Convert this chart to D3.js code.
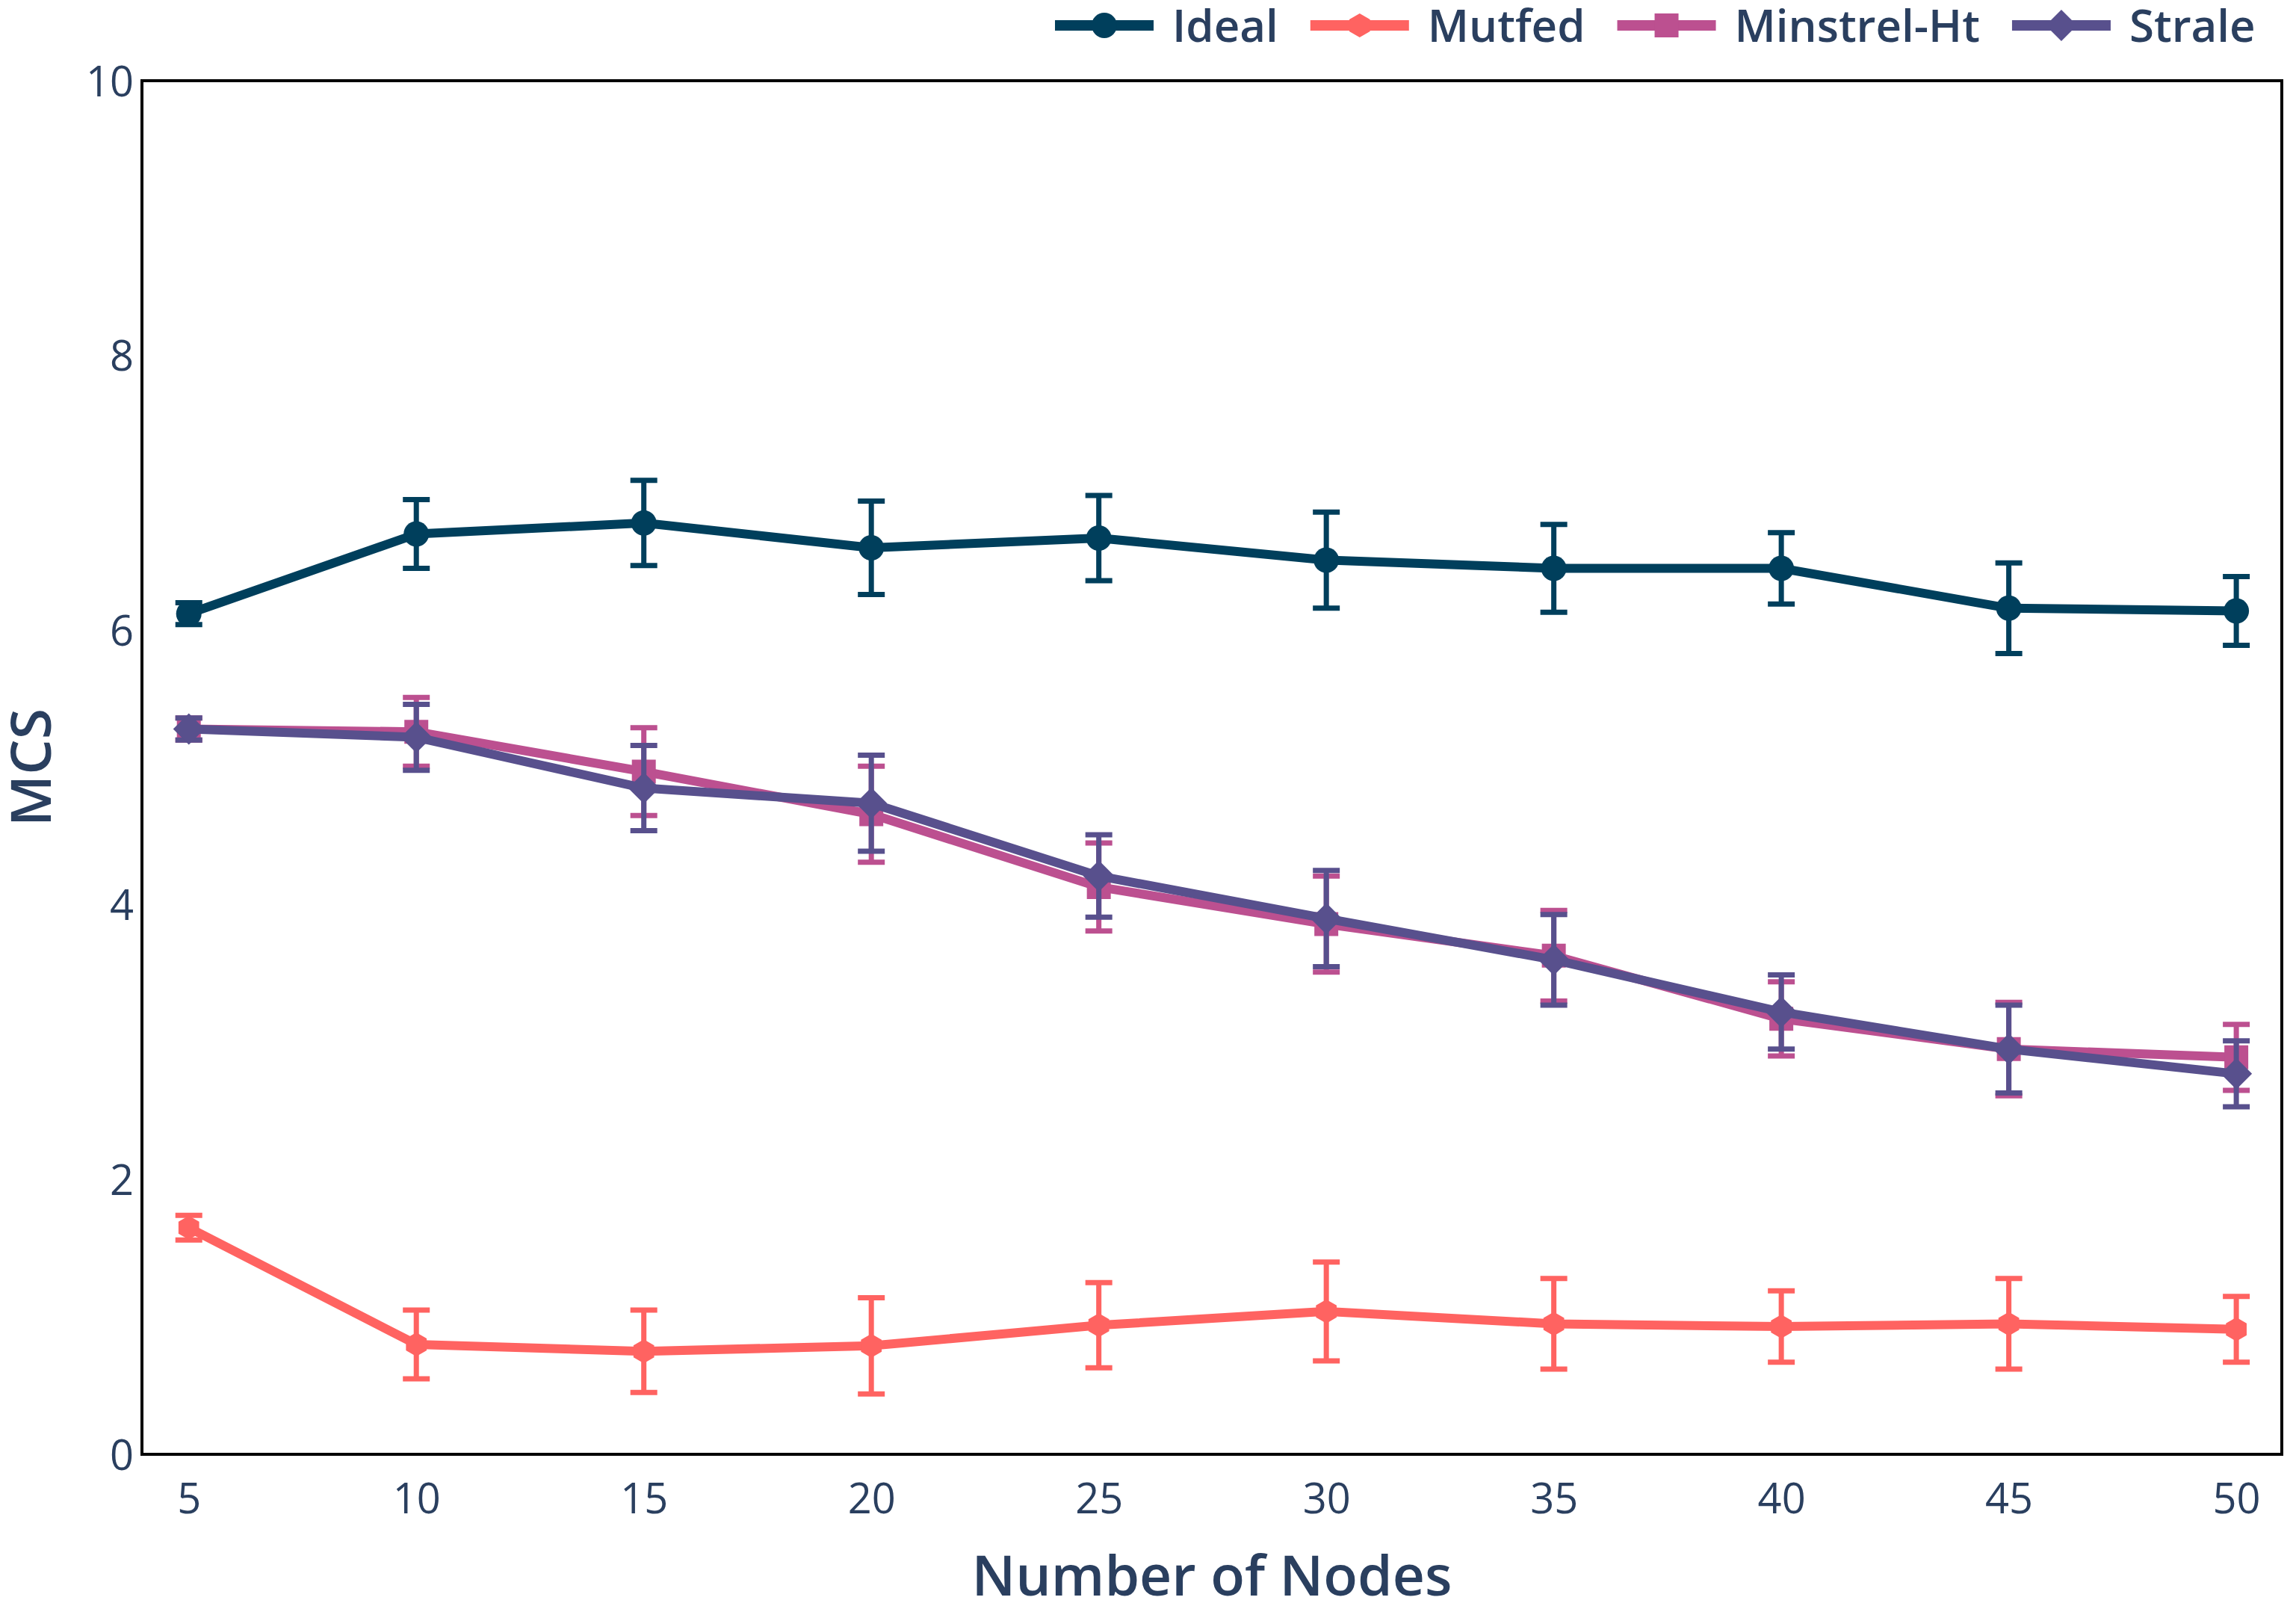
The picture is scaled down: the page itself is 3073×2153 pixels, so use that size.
<!DOCTYPE html>
<html>
<head>
<meta charset="utf-8">
<script src="https://cdn.jsdelivr.net/npm/d3@7"></script>
<style>
  html, body { margin: 0; padding: 0; background: #fff; }
  svg { display: block; font-family: "Open Sans", sans-serif; }
</style>
</head>
<body>
<div id="chart"></div>
<script>
// data
const nodes = [5, 10, 15, 20, 25, 30, 35, 40, 45, 50];
const seriesNames = ['Ideal', 'Mutfed', 'Minstrel-Ht', 'Strale'];
const idealMean    = [6.12, 6.70, 6.78, 6.60, 6.67, 6.51, 6.45, 6.45, 6.16, 6.14];
const idealErr     = [0.08, 0.25, 0.31, 0.34, 0.31, 0.35, 0.32, 0.26, 0.33, 0.25];
const mutfedMean   = [1.65, 0.80, 0.75, 0.79, 0.94, 1.04, 0.95, 0.93, 0.95, 0.91];
const mutfedErr    = [0.09, 0.25, 0.30, 0.35, 0.31, 0.36, 0.33, 0.26, 0.33, 0.24];
const minstrelMean = [5.28, 5.26, 4.97, 4.66, 4.13, 3.86, 3.63, 3.17, 2.95, 2.89];
const minstrelErr  = [0.08, 0.25, 0.32, 0.35, 0.32, 0.35, 0.33, 0.27, 0.34, 0.24];
const straleMean   = [5.28, 5.22, 4.85, 4.74, 4.21, 3.90, 3.60, 3.22, 2.95, 2.77];
const straleErr    = [0.08, 0.24, 0.31, 0.35, 0.30, 0.35, 0.33, 0.27, 0.32, 0.24];
const yTicks = [0, 2, 4, 6, 8, 10];

const colors = ['#003f5c', '#ff6361', '#bc5090', '#58508d'];
const symbols = ['circle', 'hexagon', 'square', 'diamond'];

const W = 3073, H = 2153;
const plot = { left: 190, right: 3054, top: 108, bottom: 1946 };
const textColor = '#2a3f5f';

const svg = d3.select('#chart').append('svg')
    .attr('width', W)
    .attr('height', H);

const x = d3.scaleLinear().domain([3.97, 51.0]).range([plot.left, plot.right]);
const y = d3.scaleLinear().domain([0, 10]).range([plot.bottom, plot.top]);

const series = [
    { name: seriesNames[0], mean: idealMean, err: idealErr },
    { name: seriesNames[1], mean: mutfedMean, err: mutfedErr },
    { name: seriesNames[2], mean: minstrelMean, err: minstrelErr },
    { name: seriesNames[3], mean: straleMean, err: straleErr }
].map((s, i) => ({
    ...s,
    color: colors[i],
    symbol: symbols[i],
    points: nodes.map((n, j) => ({ n, v: s.mean[j], e: s.err[j] }))
}));

function markerPath(type) {
    switch (type) {
        case 'circle': {
            const r = 17;
            return `M${r},0A${r},${r} 0 1,1 0,-${r}A${r},${r} 0 0,1 ${r},0Z`;
        }
        case 'square': {
            const r = 16;
            return `M${r},${r}H-${r}V-${r}H${r}Z`;
        }
        case 'diamond': {
            const r = 21;
            return `M${r},0L0,${r}L-${r},0L0,-${r}Z`;
        }
        case 'hexagon': {
            const r = 16, a = r * Math.sqrt(3) / 2;
            return `M${a},-${r / 2}V${r / 2}L0,${r}L-${a},${r / 2}V-${r / 2}L0,-${r}Z`;
        }
    }
}

// axes (labels only, box drawn separately)
const xAxis = svg.append('g')
    .attr('transform', `translate(0,${plot.bottom})`)
    .call(d3.axisBottom(x).tickValues(nodes).tickSize(0).tickFormat(d3.format('d')));
xAxis.select('.domain').remove();
xAxis.selectAll('text')
    .attr('y', 79)
    .attr('dy', 0)
    .attr('fill', textColor)
    .style('font-family', '"Open Sans", sans-serif')
    .style('font-size', '56px');

const yAxis = svg.append('g')
    .attr('transform', `translate(${plot.left},0)`)
    .call(d3.axisLeft(y).tickValues(yTicks).tickSize(0).tickPadding(11).tickFormat(d3.format('d')));
yAxis.select('.domain').remove();
yAxis.selectAll('text')
    .attr('dy', '0.36em')
    .attr('fill', textColor)
    .style('font-family', '"Open Sans", sans-serif')
    .style('font-size', '56px');

// traces
const line = d3.line().x(d => x(d.n)).y(d => y(d.v));
const capHalf = 18;

series.forEach(s => {
    const g = svg.append('g').attr('class', 'trace');

    const eb = g.append('g').attr('stroke', s.color).attr('stroke-width', 7).attr('fill', 'none');
    eb.selectAll('path')
        .data(s.points)
        .join('path')
        .attr('d', d => {
            const cx = x(d.n), y0 = y(d.v - d.e), y1 = y(d.v + d.e);
            return `M${cx},${y0}V${y1}M${cx - capHalf},${y1}H${cx + capHalf}M${cx - capHalf},${y0}H${cx + capHalf}`;
        });

    g.append('path')
        .datum(s.points)
        .attr('d', line)
        .attr('fill', 'none')
        .attr('stroke', s.color)
        .attr('stroke-width', 12)
        .attr('stroke-linejoin', 'round');

    g.selectAll('.pt')
        .data(s.points)
        .join('path')
        .attr('class', 'pt')
        .attr('d', markerPath(s.symbol))
        .attr('transform', d => `translate(${x(d.n)},${y(d.v)})`)
        .attr('fill', s.color);
});

// plot box
svg.append('rect')
    .attr('x', plot.left)
    .attr('y', plot.top)
    .attr('width', plot.right - plot.left)
    .attr('height', plot.bottom - plot.top)
    .attr('fill', 'none')
    .attr('stroke', '#000')
    .attr('stroke-width', 4);

// axis titles
svg.append('text')
    .attr('x', (plot.left + plot.right) / 2)
    .attr('y', 2135)
    .attr('text-anchor', 'middle')
    .attr('fill', textColor)
    .style('font-size', '75px')
    .style('font-weight', 600)
    .text('Number of Nodes');

svg.append('text')
    .attr('transform', `translate(68,${(plot.top + plot.bottom) / 2}) rotate(-90)`)
    .attr('text-anchor', 'middle')
    .attr('fill', textColor)
    .style('font-size', '75px')
    .style('font-weight', 600)
    .text('MCS');

// legend
const legend = svg.append('g').attr('class', 'legend');
let lx = 1412;
const ly = 34;
series.forEach(s => {
    const item = legend.append('g');
    item.append('line')
        .attr('x1', lx).attr('x2', lx + 132)
        .attr('y1', ly).attr('y2', ly)
        .attr('stroke', s.color)
        .attr('stroke-width', 14);
    item.append('path')
        .attr('d', markerPath(s.symbol))
        .attr('transform', `translate(${lx + 66},${ly})`)
        .attr('fill', s.color);
    const t = item.append('text')
        .attr('x', lx + 157)
        .attr('y', ly)
        .attr('dy', '0.36em')
        .attr('fill', textColor)
        .style('font-size', '60px')
        .style('font-weight', 600)
        .text(s.name);
    lx += 157 + t.node().getComputedTextLength() + 43;
});
</script>
</body>
</html>
